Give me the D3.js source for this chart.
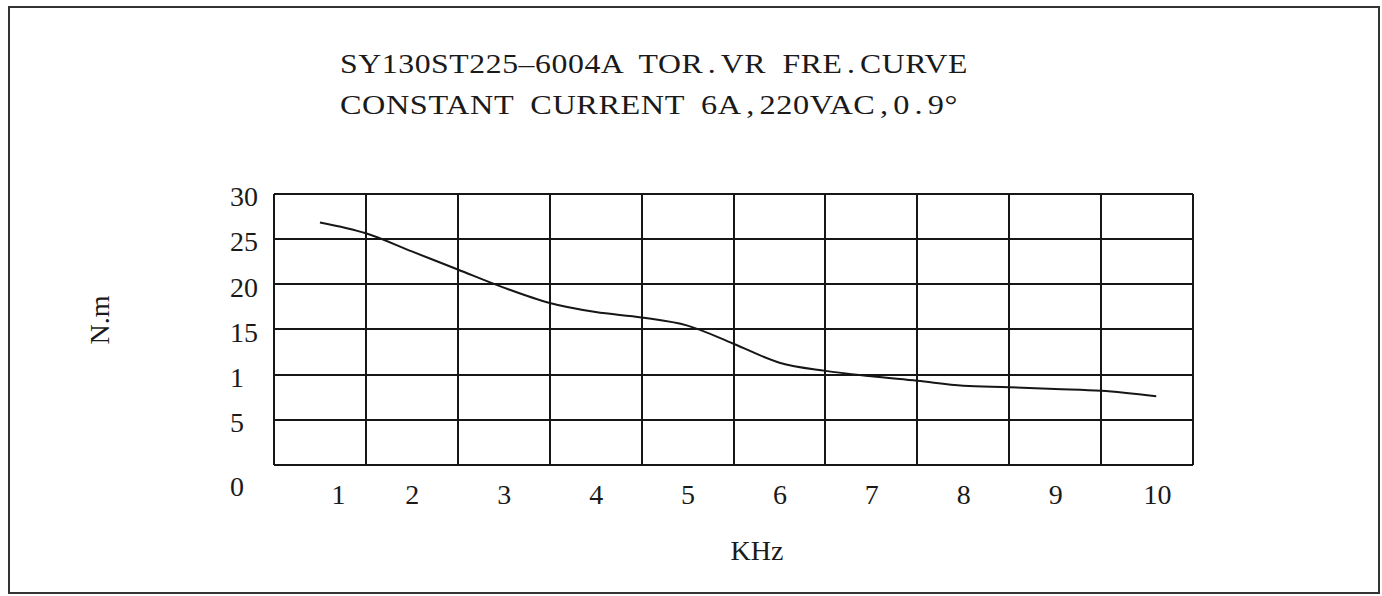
<!DOCTYPE html>
<html>
<head>
<meta charset="utf-8">
<script src="https://cdn.jsdelivr.net/npm/d3@7/dist/d3.min.js"></script>
<style>
  html, body { margin: 0; padding: 0; background: #fff; }
  svg text { font-family: "Liberation Serif", "DejaVu Serif", serif; fill: #1a1a1a; }
</style>
</head>
<body>
<svg id="chart" width="1382" height="596"></svg>
<script>
// Torque vs. frequency curve, SY130ST225-6004A
const titleLines = ["SY130ST225\u20136004A TOR.VR FRE.CURVE", "CONSTANT CURRENT 6A,220VAC,0.9\u00B0"];
const freqTicks = [1, 2, 3, 4, 5, 6, 7, 8, 9, 10];
const torqueTicks = [0, 5, 10, 15, 20, 25, 30];
const torqueTickLabels = ["0", "5", "1", "15", "20", "25", "30"];
const freqKHz = [1, 1.5, 2, 2.5, 3, 3.5, 4, 4.5, 5, 5.5, 6, 6.5, 7, 7.5, 8, 8.5, 9, 9.5, 10.1];
const torqueNm = [26.8, 25.6, 23.6, 21.6, 19.6, 17.9, 16.9, 16.3, 15.4, 13.4, 11.3, 10.4, 9.8, 9.3, 8.75, 8.6, 8.4, 8.2, 7.6];
const xLabel = "KHz";
const yLabel = "N.m";

const svg = d3.select("#chart");
const ink = "#161616";

// outer frame
svg.append("rect")
  .attr("x", 9).attr("y", 7).attr("width", 1370).attr("height", 586)
  .attr("fill", "none").attr("stroke", "#333").attr("stroke-width", 2);

// titles: half-width style punctuation gets extra room on both sides,
// then each line is fitted to a fixed width
const titleY = [73, 114];
const titleLen = [628, 618];
const punct = new Set([".", ","]);
titleLines.forEach((t, i) => {
  const txt = svg.append("text")
    .attr("x", 340).attr("y", titleY[i])
    .attr("font-size", 28)
    .attr("word-spacing", 7)
    .attr("letter-spacing", 0.5);
  const chars = Array.from(t);
  txt.selectAll("tspan").data(chars).join("tspan")
    .attr("dx", (c, j) => (punct.has(c) ? 4 : 0) + (j > 0 && punct.has(chars[j - 1]) ? 4 : 0))
    .text(c => c);
  txt.attr("textLength", titleLen[i]).attr("lengthAdjust", "spacingAndGlyphs");
});

// scales
const x = d3.scaleLinear().domain([0.5, 10.5]).range([274, 1193]);
const y = d3.scaleLinear().domain([0, 30]).range([465, 193.5]);

// grid
const grid = svg.append("g").attr("stroke", ink).attr("stroke-width", 2).attr("shape-rendering", "crispEdges");
grid.selectAll("line.v").data(d3.range(0.5, 10.51, 1)).join("line")
  .attr("class", "v")
  .attr("x1", d => x(d)).attr("x2", d => x(d))
  .attr("y1", y(0)).attr("y2", y(30));
grid.selectAll("line.h").data(torqueTicks).join("line")
  .attr("class", "h")
  .attr("x1", x(0.5)).attr("x2", x(10.5))
  .attr("y1", d => y(d)).attr("y2", d => y(d));

// y tick labels (left aligned)
const yAxis = d3.axisLeft(y).tickValues(torqueTicks).tickSize(0)
  .tickFormat((d, i) => torqueTickLabels[i]);
const yg = svg.append("g").call(yAxis);
yg.select(".domain").remove();
yg.selectAll(".tick text")
  .attr("x", 230).attr("dy", null)
  .attr("y", d => d === 0 ? 30 : 12)
  .attr("text-anchor", "start")
  .attr("font-size", 28)
  .attr("font-family", "Liberation Serif")
  .attr("fill", ink);

// x tick labels
const xAxis = d3.axisBottom(x).tickValues(freqTicks).tickSize(0).tickFormat(d3.format("d"));
const xg = svg.append("g").attr("transform", `translate(0,${y(0)})`).call(xAxis);
xg.select(".domain").remove();
xg.selectAll(".tick text")
  .attr("y", 39).attr("dy", null)
  .attr("dx", d => d === 1 ? 18 : d === 10 ? 10 : 0)
  .attr("font-size", 28)
  .attr("font-family", "Liberation Serif")
  .attr("fill", ink);

// axis titles
svg.append("text")
  .attr("x", 757).attr("y", 560)
  .attr("text-anchor", "middle").attr("font-size", 28)
  .text(xLabel);
svg.append("text")
  .attr("transform", "translate(109,320) rotate(-90)")
  .attr("text-anchor", "middle").attr("font-size", 28)
  .text(yLabel);

// torque curve
const pts = freqKHz.map((f, i) => [f, torqueNm[i]]);
const line = d3.line().x(d => x(d[0])).y(d => y(d[1])).curve(d3.curveMonotoneX);
svg.append("path")
  .datum(pts)
  .attr("d", line)
  .attr("fill", "none")
  .attr("stroke", ink)
  .attr("stroke-width", 2);
</script>
</body>
</html>
